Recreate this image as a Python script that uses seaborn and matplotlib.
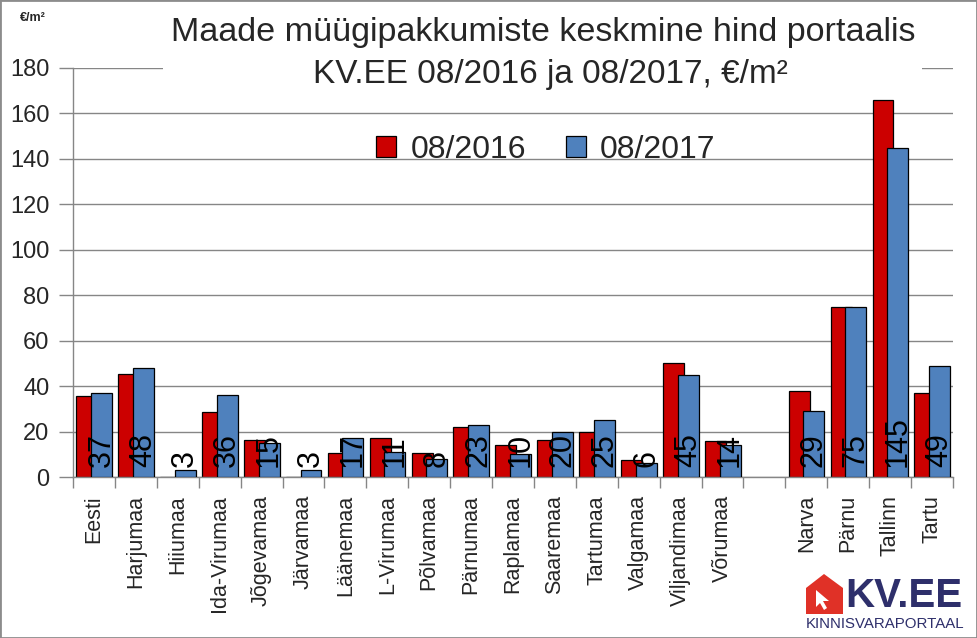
import numpy as np
import pandas as pd
import matplotlib
matplotlib.use("Agg")
import matplotlib.pyplot as plt
from matplotlib.patches import Polygon, Rectangle
from matplotlib.transforms import Affine2D
import seaborn as sns

# categories ("" is the empty gap between counties and cities)
categories = ["Eesti", "Harjumaa", "Hiiumaa", "Ida-Virumaa", "Jõgevamaa", "Järvamaa",
              "Läänemaa", "L-Virumaa", "Põlvamaa", "Pärnumaa", "Raplamaa", "Saaremaa",
              "Tartumaa", "Valgamaa", "Viljandimaa", "Võrumaa", "",
              "Narva", "Pärnu", "Tallinn", "Tartu"]
price_2016 = [35.5, 45.5, 0, 28.5, 16.5, 0, 10.5, 17, 10.5, 22, 14, 16.5, 20, 7.5, 50, 16,
              np.nan, 38, 75, 166, 37]
price_2017 = [37, 48, 3, 36, 15, 3, 17, 11, 8, 23, 10, 20, 25, 6, 45, 14,
              np.nan, 29, 75, 145, 49]
series_names = ["08/2016", "08/2017"]

RED = "#CC0000"
BLUE = "#4F81BD"
GRID = "#868686"
NAVY = "#2E2F6B"

sns.set_theme(style="white")
plt.rcParams["font.family"] = ["Liberation Sans", "DejaVu Sans"]

fig = plt.figure(figsize=(9.77, 6.38), dpi=100)
ax = fig.add_axes([73 / 977, 1 - 477 / 638, 880 / 977, 409 / 638])

pos = np.arange(len(categories))
df = pd.DataFrame({"pos": pos, "p16": price_2016, "p17": price_2017})

# overlapping bars like the Excel original: red behind, blue in front
sns.barplot(x=df["pos"] - 0.17, y=df["p16"], native_scale=True, width=0.5,
            color=RED, saturation=1, edgecolor="black", linewidth=0.9,
            errorbar=None, label=series_names[0], ax=ax, zorder=2)
sns.barplot(x=df["pos"] + 0.18, y=df["p17"], native_scale=True, width=0.5,
            color=BLUE, saturation=1, edgecolor="black", linewidth=0.9,
            errorbar=None, label=series_names[1], ax=ax, zorder=3)

# 2017 value labels, rotated at the foot of the blue bars
for p, v in zip(pos, price_2017):
    if np.isnan(v):
        continue
    ax.text(p + 0.18, 4.2, f"{int(v)}", rotation=90, ha="center", va="bottom",
            fontsize=22, color="black", zorder=5)

ax.set_xlim(-0.5, len(categories) - 0.5)
ax.set_ylim(0, 180)
ax.set_yticks(range(0, 181, 20))
ax.yaxis.grid(True, color=GRID, linewidth=1)
ax.set_axisbelow(True)
ax.set_xlabel("")
ax.set_ylabel("")

ax.set_xticks(pos)
ax.set_xticklabels(categories, rotation=90, fontsize=15.5)
ax.set_xticks(np.arange(-0.5, len(categories)), minor=True)
ax.tick_params(axis="x", which="major", length=0, pad=13)
ax.tick_params(axis="x", which="minor", bottom=True, length=8, width=1,
               color=GRID, direction="out")
ax.tick_params(axis="y", left=True, length=10, width=1, color=GRID, direction="out",
               labelsize=17, pad=7)
for side in ["top", "right"]:
    ax.spines[side].set_visible(False)
for side in ["left", "bottom"]:
    ax.spines[side].set_color(GRID)
    ax.spines[side].set_linewidth(1)

leg = ax.legend(loc="center", bbox_to_anchor=(546 / 977, 1 - 150 / 638),
                bbox_transform=fig.transFigure, ncol=2, frameon=False,
                fontsize=23, handlelength=0.62, handleheight=0.62,
                handletextpad=0.45, columnspacing=1.25)

# title block with white background hiding the top gridline
fig.add_artist(Rectangle((163 / 977, 1 - 92 / 638), (922 - 163) / 977, 88 / 638,
                         transform=fig.transFigure, facecolor="white",
                         edgecolor="none", zorder=3))
fig.text(543 / 977, 1 - 33 / 638, "Maade müügipakkumiste keskmine hind portaalis",
         ha="center", va="center", fontsize=24.6, zorder=4)
fig.text(550 / 977, 1 - 75 / 638, "KV.EE 08/2016 ja 08/2017, €/m²",
         ha="center", va="center", fontsize=24, zorder=4)
fig.text(33 / 977, 1 - 18 / 638, "€/m²", ha="center", va="center",
         fontsize=9, fontweight="bold")

# KV.EE logo
flip = Affine2D().scale(1, -1).translate(0, 638)
house = Polygon([[806, 614], [806, 588], [824, 574], [843, 588], [843, 614]],
                closed=True, facecolor="#E03127", edgecolor="none")
house.set_transform(flip)
fig.add_artist(house)
cursor = Polygon([[816, 590], [816, 607], [820, 603], [824, 610], [827, 608],
                  [823, 601], [829, 601]],
                 closed=True, facecolor="white", edgecolor="none")
cursor.set_transform(flip)
fig.add_artist(cursor)
fig.text(904 / 977, 1 - 596 / 638, "KV.EE", ha="center", va="center",
         fontsize=29, fontweight="bold", color=NAVY)
fig.text(885 / 977, 1 - 624 / 638, "KINNISVARAPORTAAL", ha="center", va="center",
         fontsize=10.8, color=NAVY)

fig.add_artist(Rectangle((0, 0), 1, 1, transform=fig.transFigure, fill=False,
                         edgecolor="#8C8C8C", linewidth=2))

plt.savefig("out.png", dpi=100)
